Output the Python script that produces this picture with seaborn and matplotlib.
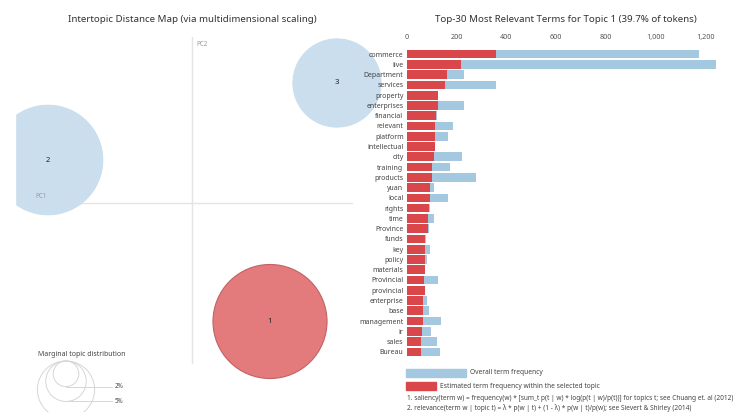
import numpy as np
import matplotlib.pyplot as plt
import seaborn as sns
from matplotlib.patches import Rectangle, Circle
from matplotlib.ticker import FuncFormatter

sns.set_theme(style="white")
plt.rcParams["font.family"] = ["Noto Sans", "DejaVu Sans"]

W, H = 742, 412

# top-30 terms for topic 1
terms = ["commerce", "live", "Department", "services", "property", "enterprises",
         "financial", "relevant", "platform", "intellectual", "city", "training",
         "products", "yuan", "local", "rights", "time", "Province", "funds", "key",
         "policy", "materials", "Provincial", "provincial", "enterprise", "base",
         "management", "ir", "sales", "Bureau"]
overall = [1173, 1243, 231, 359, 126, 228, 121, 185, 164, 114, 223, 172, 276, 107,
           164, 93, 110, 88, 75, 91, 80, 72, 123, 74, 82, 90, 138, 95, 121, 133]
estimated = [358, 217, 161, 154, 123, 123, 118, 114, 114, 111, 110, 102, 102, 92,
             92, 90, 86, 86, 72, 72, 72, 71, 68, 71, 66, 66, 66, 59, 58, 58]
bar_ticks = [0, 200, 400, 600, 800, 1000, 1200]

# topics on the MDS map
topic_ids = ["1", "2", "3"]
topic_pc1 = [0.156, -0.288, 0.290]
topic_pc2 = [-0.237, 0.086, 0.240]
topic_share = [39.7, 36.6, 23.7]
guide_share = [2, 5, 10]

BLUE_BAR = "#a5c8e1"
RED_BAR = "#d9474a"
BLUE_CIRC = "#cadeed"
RED_CIRC = "#e37a7c"
GREY = "#444444"

U = 0.002           # PC units per pixel
K = 9.05            # circle radius in px per sqrt(% of tokens)
OX, OY = 192, 203   # pixel position of the PC origin


def fig_box(x0, y0, x1, y1):
    return [x0 / W, 1 - y1 / H, (x1 - x0) / W, (y1 - y0) / H]


def radius(pct):
    return K * np.sqrt(pct) * U


fig = plt.figure(figsize=(W / 100, H / 100), dpi=100)

# ---- intertopic distance map
ax_map = fig.add_axes(fig_box(15, 30, 400, 412))
ax_map.set_xlim((15 - OX) * U, (400 - OX) * U)
ax_map.set_ylim((OY - 412) * U, (OY - 30) * U)
ax_map.axis("off")

ax_map.plot([(15 - OX) * U, (352 - OX) * U], [0, 0], color="#e4e4e4", lw=1, zorder=1)
ax_map.plot([0, 0], [(OY - 363) * U, (OY - 37) * U], color="#e4e4e4", lw=1, zorder=1)
ax_map.text((35 - OX) * U, (OY - 197) * U, "PC1", fontsize=4.5, color="#999999", va="center")
ax_map.text((196 - OX) * U, (OY - 44) * U, "PC2", fontsize=4.5, color="#999999", va="center")

# topic bubbles, area proportional to share of tokens (topic 1 selected)
for tid, x, y, share in zip(topic_ids, topic_pc1, topic_pc2, topic_share):
    selected = tid == "1"
    ax_map.add_patch(Circle((x, y), radius(share),
                            facecolor=RED_CIRC if selected else BLUE_CIRC,
                            edgecolor="#c26266" if selected else BLUE_CIRC,
                            lw=0.8, zorder=2))
    ax_map.text(x, y, tid, fontsize=5.5, fontweight="bold", color="#222222",
                ha="center", va="center", zorder=3)

# the svg panel cuts bubbles at its left border
fig.add_artist(Rectangle((0, 1 - 380 / H), 15 / W, 360 / H, color="white",
                         transform=fig.transFigure, zorder=5))

# marginal topic distribution guide
g_top = (OY - 361) * U
g_cx = (66 - OX) * U
g_x2 = (112 - OX) * U
for pct in guide_share:
    r = radius(pct)
    ax_map.add_patch(Circle((g_cx, g_top - r), r, facecolor="none",
                            edgecolor="#d6d6d6", lw=0.7, zorder=2))
    ax_map.plot([g_cx, g_x2], [g_top - 2 * r, g_top - 2 * r], color="#d6d6d6", lw=0.7)
    if OY - (g_top - 2 * r) / U < H - 4:
        ax_map.text(g_x2 + 3 * U, g_top - 2 * r, f"{pct}%", fontsize=4.5, color=GREY,
                    va="center")
fig.text(82 / W, 1 - 355 / H, "Marginal topic distribution", fontsize=5, color=GREY,
         ha="center", va="center")

fig.text(192 / W, 1 - 20 / H, "Intertopic Distance Map (via multidimensional scaling)",
         fontsize=7, color="#333333", ha="center", va="center")

# ---- bar chart of relevant terms
ax_bar = fig.add_axes(fig_box(407, 49, 716, 357))
ax_bar.patch.set_alpha(0)
sns.barplot(x=overall, y=terms, orient="h", color=BLUE_BAR, saturation=1,
            width=0.84, linewidth=0, ax=ax_bar)
sns.barplot(x=estimated, y=terms, orient="h", color=RED_BAR, saturation=1,
            width=0.84, linewidth=0, ax=ax_bar)
ax_bar.set_xlim(0, max(overall))
ax_bar.xaxis.tick_top()
ax_bar.set_xticks(bar_ticks)
ax_bar.xaxis.set_major_formatter(FuncFormatter(lambda v, _: f"{v:,.0f}"))
ax_bar.tick_params(axis="x", length=0, pad=6, labelsize=5.2, labelcolor="#555555")
ax_bar.tick_params(axis="y", length=0, pad=2.5, labelsize=5, labelcolor=GREY)
sns.despine(ax=ax_bar, left=True, bottom=True)
ax_bar.spines["top"].set_visible(False)
ax_bar.set_xlabel("")
ax_bar.set_ylabel("")

fig.text(566 / W, 1 - 20 / H, "Top-30 Most Relevant Terms for Topic 1 (39.7% of tokens)",
         fontsize=7, color="#333333", ha="center", va="center")

# legend and footnotes
fig.add_artist(Rectangle((406 / W, 1 - 377 / H), 60 / W, 8 / H, color=BLUE_BAR,
                         transform=fig.transFigure))
fig.add_artist(Rectangle((406 / W, 1 - 390 / H), 30 / W, 8 / H, color=RED_BAR,
                         transform=fig.transFigure))
fig.text(470 / W, 1 - 373 / H, "Overall term frequency", fontsize=4.8, color=GREY,
         va="center")
fig.text(440 / W, 1 - 386 / H, "Estimated term frequency within the selected topic",
         fontsize=4.8, color=GREY, va="center")
fig.text(407 / W, 1 - 398 / H,
         "1. saliency(term w) = frequency(w) * [sum_t p(t | w) * log(p(t | w)/p(t))] "
         "for topics t; see Chuang et. al (2012)", fontsize=4.7, color=GREY, va="center")
fig.text(407 / W, 1 - 408 / H,
         "2. relevance(term w | topic t) = \u03bb * p(w | t) + (1 - \u03bb) * p(w | t)/p(w); "
         "see Sievert & Shirley (2014)", fontsize=4.7, color=GREY, va="center")

fig.savefig("out.png", dpi=100)
